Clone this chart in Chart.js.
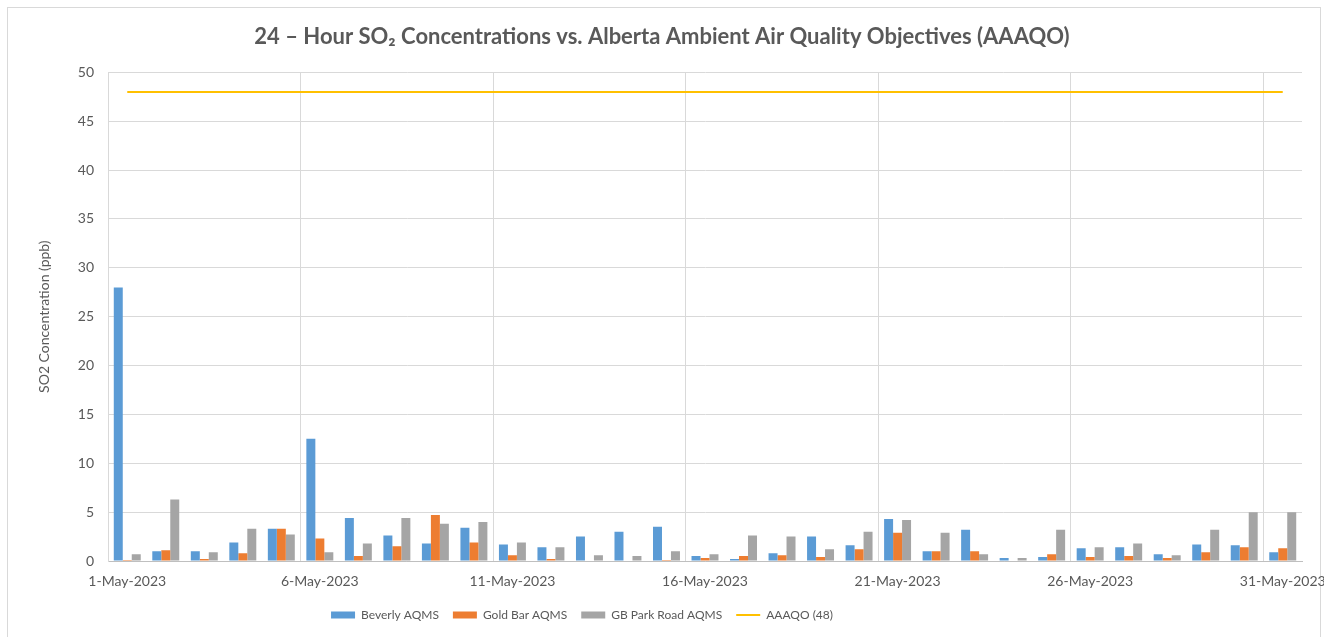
<!DOCTYPE html>
<html>
<head>
<meta charset="utf-8">
<script src="https://cdn.jsdelivr.net/npm/chart.js@4"></script>
<style>
  body { margin: 0; background: #ffffff; }
  #frame { position: absolute; left: 7px; top: 7px; width: 1312px; height: 640px; border: 1px solid #d9d9d9; }
  #canvas { position: absolute; left: 0; top: 0; }
</style>
</head>
<body>
<div id="frame"></div>
<canvas id="canvas" width="1324" height="637"></canvas>
<script>
// days of May 2023
const dates = ['1-May-2023', '2-May-2023', '3-May-2023', '4-May-2023', '5-May-2023',
    '6-May-2023', '7-May-2023', '8-May-2023', '9-May-2023', '10-May-2023',
    '11-May-2023', '12-May-2023', '13-May-2023', '14-May-2023', '15-May-2023',
    '16-May-2023', '17-May-2023', '18-May-2023', '19-May-2023', '20-May-2023',
    '21-May-2023', '22-May-2023', '23-May-2023', '24-May-2023', '25-May-2023',
    '26-May-2023', '27-May-2023', '28-May-2023', '29-May-2023', '30-May-2023',
    '31-May-2023'];

// 24 hour SO2 averages (ppb)
const beverly = [28.0, 1.0, 1.0, 1.9, 3.3, 12.5, 4.4, 2.6, 1.8, 3.4,
    1.7, 1.4, 2.5, 3.0, 3.5, 0.5, 0.2, 0.8, 2.5, 1.6,
    4.3, 1.0, 3.2, 0.3, 0.4, 1.3, 1.4, 0.7, 1.7, 1.6,
    0.9];
const goldBar = [0.1, 1.1, 0.2, 0.8, 3.3, 2.3, 0.5, 1.5, 4.7, 1.9,
    0.6, 0.2, 0, 0, 0.1, 0.3, 0.5, 0.6, 0.4, 1.2,
    2.9, 1.0, 1.0, 0, 0.7, 0.4, 0.5, 0.3, 0.9, 1.4,
    1.3];
const gbParkRoad = [0.7, 6.3, 0.9, 3.3, 2.7, 0.9, 1.8, 4.4, 3.8, 4.0,
    1.9, 1.4, 0.6, 0.5, 1.0, 0.7, 2.6, 2.5, 1.2, 3.0,
    4.2, 2.9, 0.7, 0.3, 3.2, 1.4, 1.8, 0.6, 3.2, 5.0,
    5.0];
// objective line
const aaaqo = [48, 48, 48, 48, 48, 48, 48, 48, 48, 48,
    48, 48, 48, 48, 48, 48, 48, 48, 48, 48,
    48, 48, 48, 48, 48, 48, 48, 48, 48, 48,
    48];

const yMin = 0, yMax = 50, yStep = 5;

const fontFamily = "Lato, 'Open Sans', sans-serif";
const textColor = '#595959';
const gridColor = '#d9d9d9';

// legend in the original sits left of centre
const shiftLegend = {
    id: 'shiftLegend',
    afterLayout(chart) {
        chart.legend.left -= 80;
        chart.legend.right -= 80;
    }
};

function drawChart() {
    let ctx = document.getElementById('canvas').getContext('2d');

    let data = {
        labels: dates,
        datasets: [
            { type: 'line', label: 'AAAQO (48)', data: aaaqo, borderColor: '#ffc000', borderWidth: 2,
              pointRadius: 0, pointStyle: 'line', pointBorderColor: '#ffc000', pointBorderWidth: 2, order: 0 },
            { label: 'Beverly AQMS', data: beverly, backgroundColor: '#5b9bd5', pointStyle: 'rect', order: 1 },
            { label: 'Gold Bar AQMS', data: goldBar, backgroundColor: '#ed7d31', pointStyle: 'rect', order: 1 },
            { label: 'GB Park Road AQMS', data: gbParkRoad, backgroundColor: '#a5a5a5', pointStyle: 'rect', order: 1 }
        ]
    };

    // line goes last in the legend
    const rank = item => item.datasetIndex === 0 ? 99 : item.datasetIndex;

    let options = {
        responsive: false,
        animation: false,
        categoryPercentage: 0.7,
        barPercentage: 1.0,
        layout: { padding: { left: 22, right: 22, top: 0, bottom: 6 } },
        plugins: {
            title: {
                display: true,
                text: '24 – Hour SO₂ Concentrations vs. Alberta Ambient Air Quality Objectives (AAAQO)',
                color: textColor,
                font: { family: fontFamily, size: 22, weight: 'bold' },
                padding: { top: 24, bottom: 22 }
            },
            legend: {
                position: 'bottom',
                labels: {
                    usePointStyle: true,
                    pointStyleWidth: 24,
                    boxHeight: 7,
                    padding: 14,
                    color: textColor,
                    font: { family: fontFamily, size: 12 },
                    sort: (a, b) => rank(a) - rank(b)
                }
            },
            tooltip: { enabled: false }
        },
        scales: {
            x: {
                grid: {
                    offset: true,
                    drawTicks: false,
                    color: c => (c.tick && c.index % 5 === 0 && c.index > 0) ? gridColor : 'transparent'
                },
                border: { color: '#bfbfbf' },
                ticks: {
                    autoSkip: false,
                    maxRotation: 0,
                    padding: 12,
                    color: textColor,
                    font: { family: fontFamily, size: 14 },
                    callback: function (v, i) { return i % 5 === 0 ? dates[i] : ''; }
                },
                afterFit: s => { s.paddingLeft = 0; s.paddingRight = 0; s.height = 34; }
            },
            y: {
                min: yMin,
                max: yMax,
                grid: { color: gridColor, drawTicks: false },
                border: { color: gridColor },
                ticks: {
                    stepSize: yStep,
                    padding: 14,
                    color: textColor,
                    font: { family: fontFamily, size: 14 }
                },
                title: {
                    display: true,
                    text: 'SO2 Concentration (ppb)',
                    color: textColor,
                    font: { family: fontFamily, size: 14 },
                    padding: { top: 14, bottom: 0 }
                },
                afterFit: s => { s.width = 86; }
            }
        }
    };

    new Chart(ctx, { type: 'bar', data: data, options: options, plugins: [shiftLegend] });
}

drawChart();
</script>
</body>
</html>
